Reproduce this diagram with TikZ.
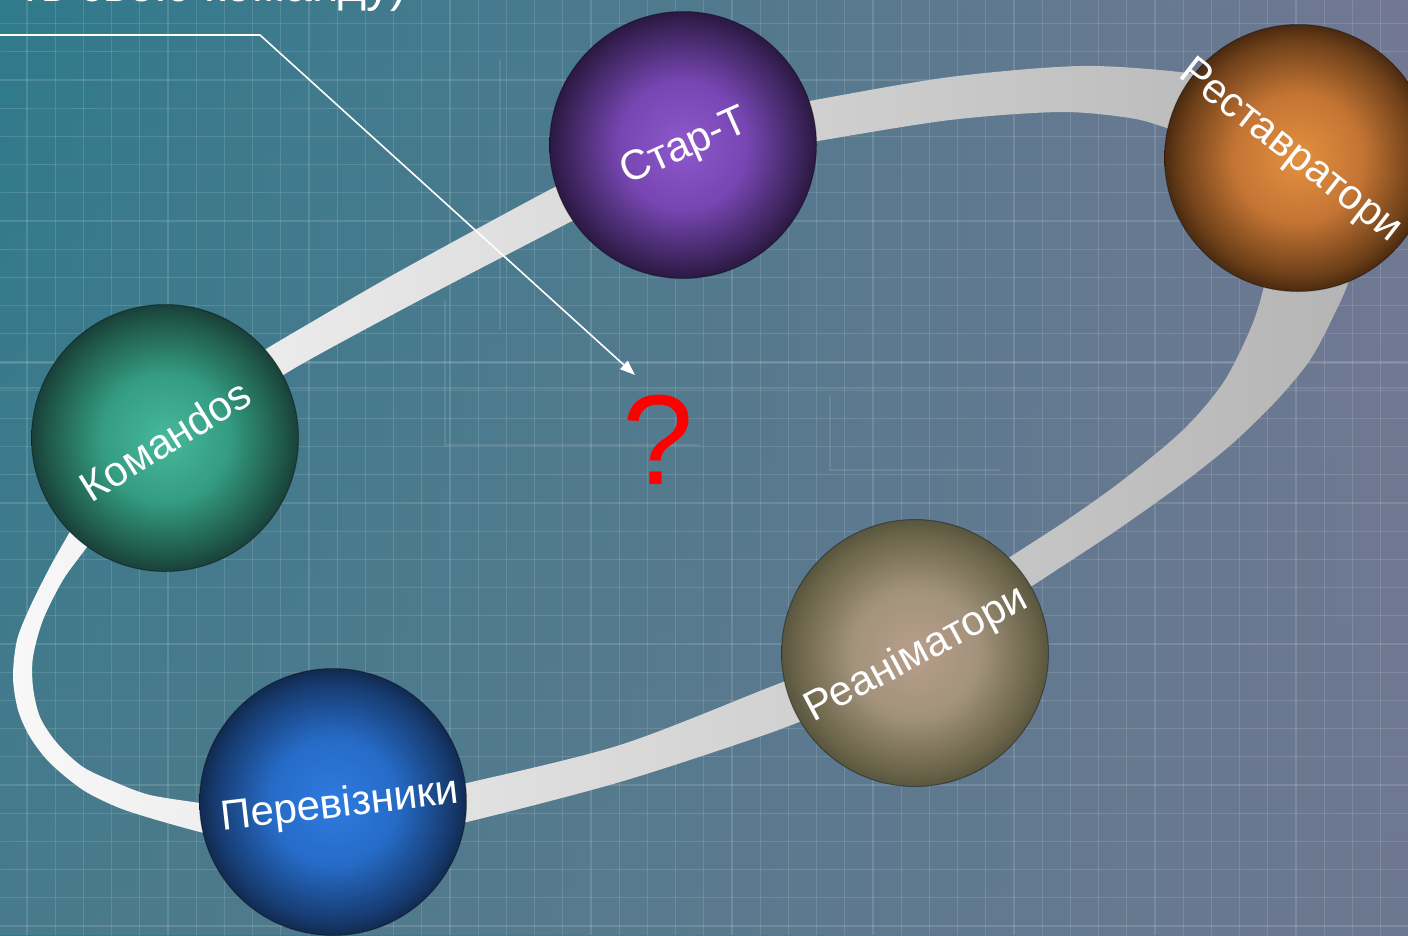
\documentclass[tikz,border=0pt]{standalone}
\usepackage{fontspec}
\setmainfont{Liberation Sans}
\usetikzlibrary{arrows.meta,fadings}
\definecolor{bgL}{HTML}{2F7B8B}
\definecolor{bgM}{HTML}{55798F}
\definecolor{bgR}{HTML}{737893}
\definecolor{bgLow}{HTML}{667A8E}
\definecolor{ringL}{HTML}{F8F8F8}
\definecolor{ringR}{HTML}{B4B4B4}
% sphere colours
\definecolor{koA}{HTML}{47B89C}\definecolor{koB}{HTML}{349C82}\definecolor{koC}{HTML}{1F5848}\definecolor{koD}{HTML}{19403A}
\definecolor{stA}{HTML}{8F58CC}\definecolor{stB}{HTML}{7746B2}\definecolor{stC}{HTML}{3C245C}\definecolor{stD}{HTML}{2B1842}
\definecolor{reA}{HTML}{E3903E}\definecolor{reB}{HTML}{C47534}\definecolor{reC}{HTML}{6E4019}\definecolor{reD}{HTML}{4A2A10}
\definecolor{peA}{HTML}{2F7BE0}\definecolor{peB}{HTML}{266BC6}\definecolor{peC}{HTML}{173C72}\definecolor{peD}{HTML}{112A50}
\definecolor{raA}{HTML}{B89E8A}\definecolor{raB}{HTML}{A2927C}\definecolor{raC}{HTML}{6C664B}\definecolor{raD}{HTML}{59563F}
\pgfdeclareradialshading{shKo}{\pgfpoint{0bp}{0bp}}{color(0bp)=(koA); color(12bp)=(koB); color(22bp)=(koC); color(25bp)=(koD); color(50bp)=(koD)}
\pgfdeclareradialshading{shSt}{\pgfpoint{0bp}{0bp}}{color(0bp)=(stA); color(12bp)=(stB); color(22bp)=(stC); color(25bp)=(stD); color(50bp)=(stD)}
\pgfdeclareradialshading{shRe}{\pgfpoint{0bp}{0bp}}{color(0bp)=(reA); color(12bp)=(reB); color(22bp)=(reC); color(25bp)=(reD); color(50bp)=(reD)}
\pgfdeclareradialshading{shPe}{\pgfpoint{0bp}{0bp}}{color(0bp)=(peA); color(12bp)=(peB); color(22bp)=(peC); color(25bp)=(peD); color(50bp)=(peD)}
\pgfdeclareradialshading{shRa}{\pgfpoint{0bp}{0bp}}{color(0bp)=(raA); color(12bp)=(raB); color(22bp)=(raC); color(25bp)=(raD); color(50bp)=(raD)}
\begin{document}
\begin{tikzpicture}[x=1pt,y=-1pt,
  sphere/.style={circle, minimum size=267pt, inner sep=0pt, draw=black, draw opacity=0.35, line width=1pt},
  lbl/.style={text=white, font=\fontsize{42}{50}\selectfont, inner sep=0pt},
  gridline/.style={white, opacity=0.13, line width=1.1pt},
  bpline/.style={white, opacity=0.1, line width=1.2pt},
  ringfill/.style={left color=ringL, right color=ringR}]
\clip (0,0) rectangle (1408,935);
% background
\shade[left color=bgL, middle color=bgM, right color=bgR] (0,0) rectangle (1408,935);
\fill[bgLow, fill opacity=0.45, path fading=north] (0,0) rectangle (1408,935);
\foreach \i in {0,...,49} \draw[gridline] ({27+28.2*\i},0) -- ({27+28.2*\i},935);
\foreach \j in {0,...,32} \draw[gridline] (0,{23.6+28.2*\j}) -- (1408,{23.6+28.2*\j});
\draw[bpline] (0,363) -- (1408,363);
\draw[bpline] (0,388) -- (1408,388);
\draw[bpline] (445,300) -- (445,445) -- (700,445);
\draw[bpline] (500,60) -- (500,330);
\draw[bpline] (830,395) -- (830,470) -- (1000,470);
% ring
\shade[ringfill]
  plot[smooth] coordinates {(230,375) (263,351) (310,323) (400,271) (555,187) (600,168)}
  -- plot[smooth] coordinates {(605,204) (572,221) (420,300) (300,365) (250,397)} -- cycle
  plot[smooth] coordinates {(760,112) (815,100) (950,77) (1080,66) (1180,72) (1230,82)}
  -- plot[smooth] coordinates {(1230,150) (1167,128) (1130,118) (1060,112) (950,120) (818,141) (760,152)} -- cycle
  plot[smooth] coordinates {(1362,215) (1350,277) (1333,317) (1310,360) (1277,400) (1233,443) (1183,483) (1117,530) (1055,571) (995,610)}
  -- plot[smooth] coordinates {(975,580) (1010,557) (1067,520) (1123,480) (1183,430) (1223,383) (1250,330) (1263,290) (1272,235)} -- cycle
  plot[smooth] coordinates {(840,660) (770,687) (620,745) (467,783) (420,792)}
  -- plot[smooth] coordinates {(420,830) (467,822) (620,782) (770,733) (840,705)} -- cycle
  plot[smooth] coordinates {(250,843) (200,832) (150,818) (117,807) (83,790) (50,763) (30,737) (18,710) (13,677) (17,640) (30,607) (50,567) (68,535) (95,488)}
  -- plot[smooth] coordinates {(110,515) (87,547) (63,580) (43,620) (33,657) (33,687) (40,717) (57,743) (83,767) (117,783) (150,795) (200,803) (250,810)} -- cycle;
% top text (cut off)
\node[text=white, font=\fontsize{48}{56}\selectfont, inner sep=0pt, anchor=base east] (title) at (407,1) {ть свою команду)};
% question mark and arrow
\node[text=red, font=\fontsize{128}{150}\selectfont, inner sep=0pt] (q) at (658,440) {?};
\coordinate (a0) at (0,35);
\coordinate (a1) at (260,35);
\coordinate (a2) at (635,375);
\draw[white, line width=1.6pt, -{Triangle[length=15pt,width=11pt]}] (a0) -- (a1) -- (a2);
% spheres
\node[sphere, shading=shSt] (start) at (683,145) {};
\node[sphere, shading=shRe] (rest) at (1298,158) {};
\node[sphere, shading=shKo] (koma) at (165,438) {};
\node[sphere, shading=shPe] (pere) at (333,802) {};
\node[sphere, shading=shRa] (rean) at (915,653) {};
% labels
\node[lbl, rotate=24] (startl) at (685,148) {Стар-Т};
\node[lbl, rotate=-38] (restl) at (1290,152) {Реставратори};
\node[lbl, rotate=32] (komal) at (165,440) {Команdos};
\node[lbl, rotate=6.5] (perel) at (340,806) {Перевізники};
\node[lbl, rotate=28] (reanl) at (917,655) {Реаніматори};
\end{tikzpicture}
\end{document}
